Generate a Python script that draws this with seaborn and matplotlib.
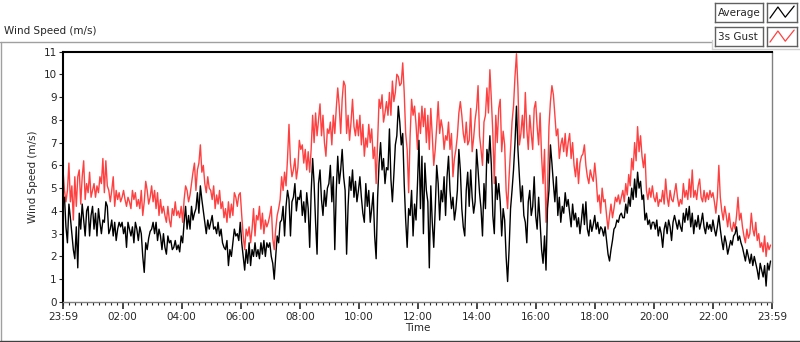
import numpy as np
import pandas as pd
import seaborn as sns
import matplotlib.pyplot as plt
import matplotlib.dates as mdates
from matplotlib.lines import Line2D

# 3-minute samples, two rows per hour starting 23:59
gust = [
    5.8, 4.9, 4.4, 4.9, 6.1, 4.4, 5.1, 3.6, 5.5, 4.2,
    5.5, 5.8, 4.3, 5.5, 6.2, 4.5, 5.2, 4.8, 5.7, 4.6,
    4.9, 5.2, 4.6, 5.1, 4.8, 5.5, 5.2, 6.3, 4.8, 6.2,
    5.1, 4.9, 4.4, 4.9, 5.5, 4.2, 4.9, 4.5, 4.8, 4.4,
    4.6, 4.9, 4.5, 4.2, 4.6, 4.4, 4.1, 4.9, 4.5, 4.8,
    4.2, 4.5, 4.1, 4.9, 3.8, 4.4, 5.3, 4.9, 4.3, 4.6,
    5.1, 4.4, 4.9, 4.1, 4.8, 3.8, 4.5, 3.9, 4.2, 3.8,
    3.5, 4.2, 3.6, 3.3, 4.1, 3.8, 4.4, 3.8, 4.0, 3.7,
    4.2, 3.5, 4.5, 5.1, 4.9, 4.4, 4.7, 5.2, 5.7, 6.1,
    4.9, 5.8, 6.1, 6.9, 5.7, 6.0, 5.2, 4.8, 5.5, 5.0,
    4.9, 4.5, 5.1, 4.1, 4.7, 4.3, 4.9, 4.1, 4.4, 3.7,
    4.1, 3.5, 4.4, 3.7, 4.3, 3.8, 4.8, 4.6, 4.2, 4.7,
    4.8, 3.8, 2.9, 2.3, 3.2, 2.9, 3.3, 2.6, 3.2, 4.1,
    2.9, 3.8, 3.6, 4.2, 3.2, 3.9, 3.0, 3.6, 3.3, 3.5,
    3.8, 4.2, 2.8, 2.3, 3.2, 3.8, 4.1, 4.5, 5.5, 4.9,
    5.7, 5.1, 6.3, 7.8, 6.1, 5.5, 5.8, 6.3, 5.4, 5.9,
    7.1, 6.7, 6.9, 6.1, 6.7, 5.8, 6.6, 5.7, 6.7, 8.2,
    7.0, 8.3, 7.3, 8.0, 8.7, 7.3, 8.2, 7.0, 6.4, 7.6,
    7.4, 7.9, 6.9, 8.2, 7.4, 8.5, 9.4, 8.6, 7.4, 8.9,
    9.7, 9.5, 7.4, 8.2, 7.1, 7.9, 8.9, 7.7, 7.3, 8.0,
    7.3, 8.2, 6.9, 7.8, 6.4, 7.2, 6.8, 7.8, 7.0, 7.6,
    6.3, 6.8, 5.2, 7.0, 8.9, 8.5, 9.1, 7.9, 8.3, 8.8,
    8.2, 9.2, 8.2, 9.7, 8.8, 9.2, 10.0, 9.9, 9.5, 9.6,
    10.5, 9.2, 7.4, 6.7, 4.8, 7.3, 8.9, 8.2, 8.6, 7.8,
    6.7, 8.3, 7.4, 8.6, 7.7, 8.5, 7.0, 8.2, 6.7, 8.5,
    7.3, 6.0, 6.7, 7.7, 8.8, 7.4, 8.0, 7.6, 6.7, 7.3,
    7.1, 7.9, 6.7, 7.4, 5.5, 6.3, 6.7, 7.3, 8.3, 8.8,
    8.2, 7.4, 7.0, 7.9, 6.9, 7.1, 8.5, 6.6, 7.2, 8.0,
    8.5, 9.5, 7.3, 6.7, 6.0, 7.9, 8.2, 9.4, 8.3, 10.2,
    8.9, 7.4, 5.2, 8.2, 7.0, 8.5, 8.9, 6.6, 7.5, 6.9,
    4.9, 4.1, 5.5, 6.7, 7.9, 8.6, 9.9, 10.9, 9.4, 6.9,
    7.4, 8.2, 7.2, 9.2, 7.6, 6.7, 8.2, 7.4, 6.7, 8.5,
    8.8, 7.7, 6.9, 8.3, 6.4, 5.2, 6.7, 3.5, 4.9, 7.7,
    8.8, 9.5, 9.1, 8.2, 7.3, 7.6, 6.3, 6.9, 7.2, 6.6,
    7.4, 6.4, 7.0, 7.4, 6.3, 7.0, 6.0, 5.5, 6.3, 5.2,
    6.1, 6.4, 6.5, 6.9, 6.0, 5.5, 5.2, 5.8, 5.5, 5.3,
    6.1, 5.4, 4.4, 4.7, 3.9, 5.0, 4.4, 4.5, 3.8, 3.2,
    3.8, 4.3, 3.7, 4.1, 4.6, 4.4, 4.7, 4.3, 4.6, 4.9,
    4.4, 5.2, 4.7, 5.6, 5.1, 6.3, 5.8, 7.0, 6.2, 7.7,
    6.6, 7.3, 6.4, 5.9, 6.5, 4.9, 4.5, 5.0, 4.6, 5.1,
    4.6, 4.4, 4.8, 4.2, 4.5, 4.4, 4.9, 4.3, 5.4, 4.6,
    4.2, 4.9, 4.5, 4.4, 4.8, 5.2, 4.6, 4.2, 4.5, 4.3,
    5.2, 4.6, 4.9, 4.5, 5.4, 4.6, 5.8, 4.6, 4.9, 4.5,
    5.1, 5.4, 4.6, 4.4, 4.9, 4.4, 4.8, 4.5, 4.9, 4.6,
    4.8, 4.4, 3.9, 4.6, 6.0, 4.6, 4.0, 3.6, 4.2, 3.8,
    3.3, 3.9, 3.3, 3.1, 3.5, 3.2, 3.8, 4.6, 3.6, 3.9,
    3.3, 2.9, 2.6, 3.2, 2.8, 3.0, 3.9, 3.2, 2.9, 3.5,
    2.7, 3.0, 2.4, 2.6, 2.2, 2.9, 2.0, 2.6, 2.3, 2.5,
]
average = [
    4.5, 4.6, 3.3, 2.6, 4.3, 3.7, 3.0, 2.3, 1.9, 3.3,
    1.5, 3.9, 3.2, 4.3, 3.6, 2.9, 4.0, 4.2, 2.9, 3.8,
    4.2, 3.2, 3.9, 2.9, 4.1, 3.5, 3.0, 3.6, 3.5, 4.4,
    4.2, 3.0, 3.2, 3.6, 2.9, 3.5, 2.7, 3.2, 3.5, 3.3,
    3.5, 3.0, 3.3, 2.4, 3.5, 3.2, 2.9, 3.3, 2.6, 3.5,
    3.2, 2.7, 3.3, 3.0, 2.0, 1.3, 2.6, 2.3, 2.8, 3.1,
    3.2, 3.5, 3.0, 3.5, 2.7, 3.2, 2.9, 2.3, 3.0, 2.4,
    2.1, 2.9, 2.6, 2.7, 2.3, 2.4, 2.7, 2.3, 2.5, 2.2,
    2.9, 2.6, 3.5, 4.2, 3.2, 3.8, 3.2, 4.2, 3.6, 3.9,
    4.1, 4.8, 3.9, 5.1, 4.5, 4.0, 3.5, 3.0, 3.6, 3.2,
    3.5, 3.8, 3.2, 3.3, 3.0, 3.5, 2.9, 3.2, 2.6, 2.4,
    2.3, 2.7, 1.6, 2.3, 2.0, 2.6, 3.2, 2.9, 3.0, 2.7,
    3.5, 2.6, 2.0, 1.4, 2.3, 1.7, 2.6, 1.6, 2.3, 2.0,
    2.6, 2.0, 2.3, 1.9, 2.6, 2.1, 2.7, 2.0, 2.6, 2.4,
    2.6, 2.0, 1.7, 1.0, 2.0, 2.9, 2.6, 3.5, 3.6, 4.2,
    2.9, 4.2, 4.9, 4.5, 2.9, 4.4, 4.6, 5.2, 4.0, 4.6,
    4.5, 4.9, 3.8, 4.4, 3.5, 4.8, 4.1, 2.4, 4.8, 6.3,
    5.2, 3.5, 2.1, 5.2, 5.8, 4.5, 3.8, 4.9, 4.2, 5.0,
    5.2, 6.0, 4.4, 5.5, 2.3, 4.9, 6.4, 5.2, 5.8, 6.7,
    5.5, 4.9, 2.1, 4.2, 5.5, 4.9, 5.8, 4.6, 5.3, 4.4,
    4.9, 5.5, 4.6, 3.9, 3.5, 5.2, 4.2, 4.9, 3.5, 4.1,
    4.8, 2.9, 1.9, 4.6, 6.1, 7.0, 5.8, 6.3, 5.2, 5.9,
    5.8, 7.6, 5.4, 4.4, 5.6, 6.9, 7.3, 8.6, 7.9, 6.9,
    7.4, 5.2, 3.6, 2.4, 4.1, 3.8, 4.9, 2.9, 4.3, 3.6,
    5.2, 7.1, 4.1, 6.4, 3.0, 6.1, 4.9, 4.4, 1.5, 5.1,
    3.5, 2.4, 4.1, 6.0, 5.2, 3.6, 4.9, 4.4, 5.5, 3.8,
    5.5, 6.4, 4.9, 4.1, 4.6, 3.6, 4.1, 4.9, 6.7, 5.8,
    4.1, 3.3, 2.9, 4.9, 5.7, 4.2, 5.8, 4.6, 3.9, 4.4,
    6.7, 5.8, 4.8, 4.1, 2.9, 5.2, 4.1, 6.7, 6.1, 7.3,
    6.0, 3.8, 3.0, 5.5, 4.5, 5.2, 4.4, 2.9, 4.1, 3.6,
    2.0, 0.9, 2.3, 4.1, 4.9, 5.8, 7.0, 8.6, 6.7, 5.5,
    4.4, 5.1, 3.8, 3.5, 2.6, 4.4, 4.9, 3.8, 4.2, 5.5,
    3.8, 3.2, 4.6, 3.5, 2.3, 1.7, 2.9, 1.4, 4.1, 4.9,
    6.9, 6.1, 5.2, 4.4, 5.5, 3.8, 4.6, 3.5, 4.2, 3.9,
    4.8, 4.2, 4.5, 3.9, 3.3, 4.3, 3.6, 3.9, 3.3, 3.7,
    3.0, 3.6, 4.3, 3.4, 4.4, 3.2, 2.9, 3.6, 3.1, 3.4,
    3.8, 3.2, 3.5, 3.0, 3.3, 3.2, 2.9, 3.3, 2.7, 2.1,
    1.8, 2.3, 2.7, 3.2, 3.3, 3.6, 3.5, 3.8, 3.9, 3.7,
    3.7, 4.3, 3.9, 4.6, 4.2, 5.0, 4.5, 5.4, 4.6, 5.7,
    5.0, 5.3, 4.5, 4.7, 3.6, 3.9, 3.4, 3.6, 3.2, 3.5,
    3.5, 3.2, 3.6, 2.9, 3.3, 3.0, 2.4, 3.2, 3.5, 3.0,
    3.6, 3.3, 2.7, 3.5, 3.8, 3.5, 3.2, 3.6, 3.3, 3.1,
    3.9, 3.5, 4.1, 3.6, 4.2, 3.3, 3.9, 3.0, 3.6, 3.3,
    3.8, 3.2, 3.5, 3.9, 3.3, 3.0, 3.5, 3.2, 3.4, 3.1,
    3.6, 3.2, 2.9, 3.3, 3.8, 3.2, 2.7, 2.3, 2.9, 2.6,
    2.1, 2.4, 2.7, 2.5, 2.9, 3.0, 3.3, 2.7, 2.9, 2.6,
    2.4, 2.1, 1.8, 2.3, 2.0, 1.7, 2.1, 1.6, 2.0, 1.7,
    1.4, 1.0, 1.7, 1.4, 1.1, 1.6, 0.7, 1.7, 1.4, 1.8,
]
tick_hours = ['02:00', '04:00', '06:00', '08:00', '10:00', '12:00',
              '14:00', '16:00', '18:00', '20:00', '22:00']

start = pd.Timestamp('2020-01-01 23:59')
end = start + pd.Timedelta(hours=24)
df = pd.DataFrame({
    'time': pd.date_range(start, periods=len(gust), freq='3min'),
    'gust': gust,
    'average': average,
})

sns.set_style('white')
plt.rcParams['font.family'] = ['DejaVu Sans']
fs = 7.5

fig = plt.figure(figsize=(8, 3.42), dpi=100)
ax = fig.add_axes([63/800, 1-302/342, 709/800, 250.5/342])

sns.lineplot(data=df, x='time', y='gust', color='#ff4040', lw=1.0,
             estimator=None, sort=False, ax=ax)
sns.lineplot(data=df, x='time', y='average', color='black', lw=1.0,
             estimator=None, sort=False, ax=ax)

ax.set_xlim(start, end)
ax.set_ylim(0, 11)
ax.set_yticks(range(0, 12))
ax.tick_params(axis='y', labelsize=fs, length=3, width=0.8, direction='out',
               left=True, pad=1.5)

major = [start] + [pd.Timestamp('2020-01-02 ' + t) for t in tick_hours] + [end]
ax.set_xticks(major)
ax.set_xticklabels(['23:59'] + tick_hours + ['23:59'])
ax.xaxis.set_minor_locator(mdates.MinuteLocator(byminute=[0, 12, 24, 36, 48]))
ax.tick_params(axis='x', which='major', labelsize=fs, length=5, width=1.2,
               direction='out', bottom=True, pad=2)
ax.tick_params(axis='x', which='minor', length=2.5, width=0.8,
               direction='out', bottom=True)

ax.set_xlabel('Time', fontsize=fs, labelpad=1)
ax.set_ylabel('Wind Speed (m/s)', fontsize=fs, labelpad=4)

for side, col, w in [('left', 'black', 1.5), ('top', 'black', 1.5),
                     ('right', '#808080', 1.0), ('bottom', '#808080', 1.0)]:
    ax.spines[side].set_color(col)
    ax.spines[side].set_linewidth(w)

# panel frame and title
fig.text(4/800, 1-31/342, 'Wind Speed (m/s)', fontsize=fs, va='center')
gray = '#a0a0a0'
fig.add_artist(Line2D([0, 711/800], [1-42.3/342]*2, color=gray, lw=1))
fig.add_artist(Line2D([1/800, 1/800], [1-42.3/342, 1-341/342], color=gray, lw=1))
fig.add_artist(Line2D([0, 1], [1-341/342]*2, color='#404040', lw=1))
fig.add_artist(Line2D([711.5/800]*2, [1-40/342, 1-49.3/342], color='#d0d0d0', lw=1))
fig.add_artist(Line2D([711.5/800, 1], [1-49.3/342]*2, color='#d0d0d0', lw=1))

# LabVIEW-style legend boxes
for i, (name, col) in enumerate([('Average', 'black'), ('3s Gust', '#ff4040')]):
    top = 3.3 + i * 24
    lab = fig.add_axes([715/800, 1-(top+18.5)/342, 47.5/800, 18.5/342])
    lab.set_xticks([])
    lab.set_yticks([])
    lab.text(0.06, 0.45, name, fontsize=fs, va='center', ha='left',
             transform=lab.transAxes)
    sw = fig.add_axes([767/800, 1-(top+18.5)/342, 29.5/800, 18.5/342])
    sw.set_xticks([])
    sw.set_yticks([])
    sw.plot([0.1, 0.37, 0.62, 0.92], [0.2, 0.8, 0.25, 0.85], color=col, lw=0.9)
    sw.set_xlim(0, 1)
    sw.set_ylim(0, 1)
    for a in (lab, sw):
        for s in a.spines.values():
            s.set_color('#606060')
            s.set_linewidth(1)

fig.savefig('out.png', dpi=100)
